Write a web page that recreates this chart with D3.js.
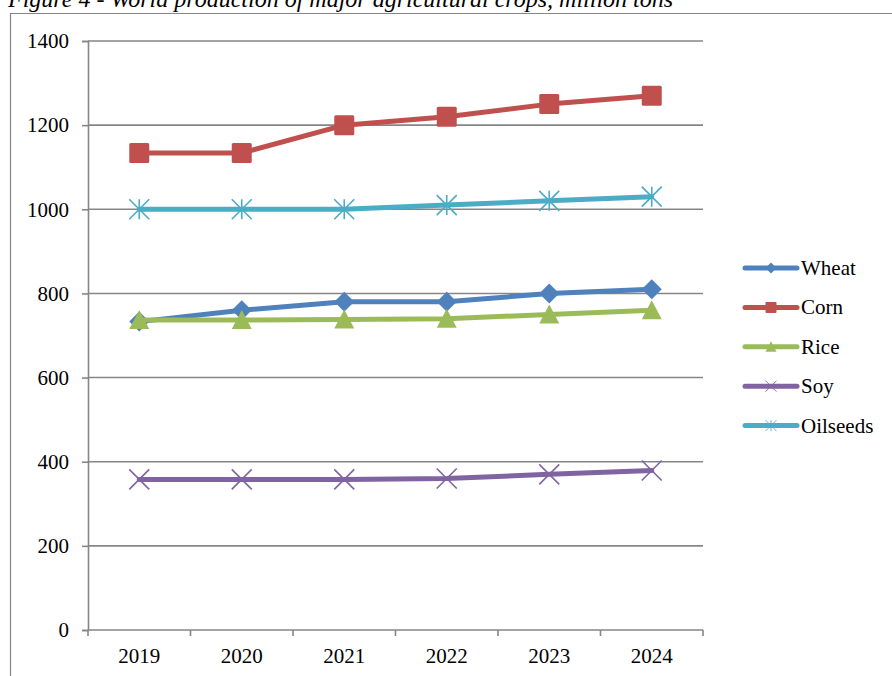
<!DOCTYPE html>
<html>
<head>
<meta charset="utf-8">
<script src="https://cdn.jsdelivr.net/npm/d3@7"></script>
<style>
  html, body { margin: 0; padding: 0; background: #fff; }
  svg { display: block; }
  text { font-family: "Liberation Serif", "Times New Roman", serif; fill: #000; }
</style>
</head>
<body>
<script>
// World production of major agricultural crops, million tons
const years = ["2019", "2020", "2021", "2022", "2023", "2024"];
const wheat    = [733, 760, 780, 780, 800, 810];
const corn     = [1134, 1134, 1200, 1220, 1250, 1270];
const rice     = [737, 737, 738, 740, 750, 760];
const soy      = [358, 358, 358, 360, 370, 379];
const oilseeds = [1000, 1000, 1000, 1010, 1020, 1030];
const yTicks   = [0, 200, 400, 600, 800, 1000, 1200, 1400];

const seriesNames  = ["Wheat", "Corn", "Rice", "Soy", "Oilseeds"];
const seriesValues = [wheat, corn, rice, soy, oilseeds];
const seriesColors = ["#4F81BD", "#C0504D", "#9BBB59", "#8064A2", "#4BACC6"];
const seriesMarkers = ["diamond", "square", "triangle", "cross", "star"];

const W = 892, H = 676;
const svg = d3.select("body").append("svg").attr("width", W).attr("height", H);

// caption, running off the top of the page
svg.append("text")
  .attr("x", 8).attr("y", 7)
  .attr("font-size", 24).attr("font-style", "italic")
  .text("Figure 4 - World production of major agricultural crops, million tons");

// chart frame
svg.append("path")
  .attr("d", `M10.5,${H + 2} V13.5 H${W + 2}`)
  .attr("fill", "none").attr("stroke", "#868686").attr("stroke-width", 1.2);

const plotLeft = 88, plotRight = 703, plotTop = 41, plotBottom = 630;
const x = d3.scaleBand().domain(years).range([plotLeft, plotRight]);
const y = d3.scaleLinear().domain([0, 1400]).range([plotBottom, plotTop]);
const grid = "#868686";

// horizontal gridlines
svg.append("g").selectAll("line").data(yTicks.filter(t => t > 0)).join("line")
  .attr("x1", plotLeft).attr("x2", plotRight)
  .attr("y1", d => y(d)).attr("y2", d => y(d))
  .attr("stroke", grid).attr("stroke-width", 1.6);

// y axis
const yAxis = svg.append("g").attr("transform", `translate(${plotLeft},0)`)
  .call(d3.axisLeft(y).tickValues(yTicks).tickSize(6).tickPadding(13).tickFormat(d3.format("d")));
yAxis.select(".domain").attr("stroke", grid).attr("stroke-width", 1.6);
yAxis.selectAll(".tick line").attr("stroke", grid).attr("stroke-width", 1.6);
yAxis.selectAll(".tick text").attr("font-size", 21)
  .attr("font-family", "Liberation Serif, Times New Roman, serif").attr("fill", "#000");

// x axis with ticks at category boundaries
const xg = svg.append("g").attr("transform", `translate(0,${plotBottom})`);
xg.append("line").attr("x1", plotLeft).attr("x2", plotRight).attr("y1", 0).attr("y2", 0)
  .attr("stroke", grid).attr("stroke-width", 1.6);
const bounds = years.map(d => x(d)).concat([plotRight]);
xg.selectAll("line.tk").data(bounds).join("line").attr("class", "tk")
  .attr("x1", d => d).attr("x2", d => d).attr("y1", 0).attr("y2", 6)
  .attr("stroke", grid).attr("stroke-width", 1.6);
xg.selectAll("text").data(years).join("text")
  .attr("x", d => x(d) + x.bandwidth() / 2).attr("y", 33)
  .attr("text-anchor", "middle").attr("font-size", 21).text(d => d);

const cx = d => x(d) + x.bandwidth() / 2;

function drawMarker(g, type, color) {
  if (type === "diamond") {
    g.append("path").attr("d", "M0,-10 L10,0 L0,10 L-10,0 Z").attr("fill", color);
  } else if (type === "square") {
    g.append("rect").attr("x", -10).attr("y", -10).attr("width", 20).attr("height", 20)
      .attr("rx", 1.5).attr("fill", color);
  } else if (type === "triangle") {
    g.append("path").attr("d", "M0,-10 L10,9 L-10,9 Z").attr("fill", color);
  } else if (type === "cross") {
    g.append("path").attr("d", "M-10,-10 L10,10 M-10,10 L10,-10")
      .attr("stroke", color).attr("stroke-width", 1.6).attr("fill", "none");
  } else if (type === "star") {
    g.append("path").attr("d", "M-10,-10 L10,10 M-10,10 L10,-10 M0,-10 L0,10")
      .attr("stroke", color).attr("stroke-width", 1.6).attr("fill", "none");
  }
}

const line = d3.line().x((d, i) => cx(years[i])).y(d => y(d));

seriesValues.forEach((vals, si) => {
  const color = seriesColors[si];
  svg.append("path").datum(vals).attr("d", line)
    .attr("fill", "none").attr("stroke", color).attr("stroke-width", 5)
    .attr("stroke-linejoin", "round").attr("stroke-linecap", "round");
  vals.forEach((v, i) => {
    const g = svg.append("g").attr("transform", `translate(${cx(years[i])},${y(v)})`);
    drawMarker(g, seriesMarkers[si], color);
  });
});

// legend
const legend = svg.append("g");
seriesNames.forEach((name, i) => {
  const ly = 268 + i * 39.4;
  const g = legend.append("g");
  g.append("line").attr("x1", 745).attr("x2", 797).attr("y1", ly).attr("y2", ly)
    .attr("stroke", seriesColors[i]).attr("stroke-width", 5).attr("stroke-linecap", "round");
  const m = g.append("g").attr("transform", `translate(771,${ly}) scale(0.55)`);
  drawMarker(m, seriesMarkers[i], seriesColors[i]);
  g.append("text").attr("x", 801).attr("y", ly + 7).attr("font-size", 21).text(name);
});
</script>
</body>
</html>
